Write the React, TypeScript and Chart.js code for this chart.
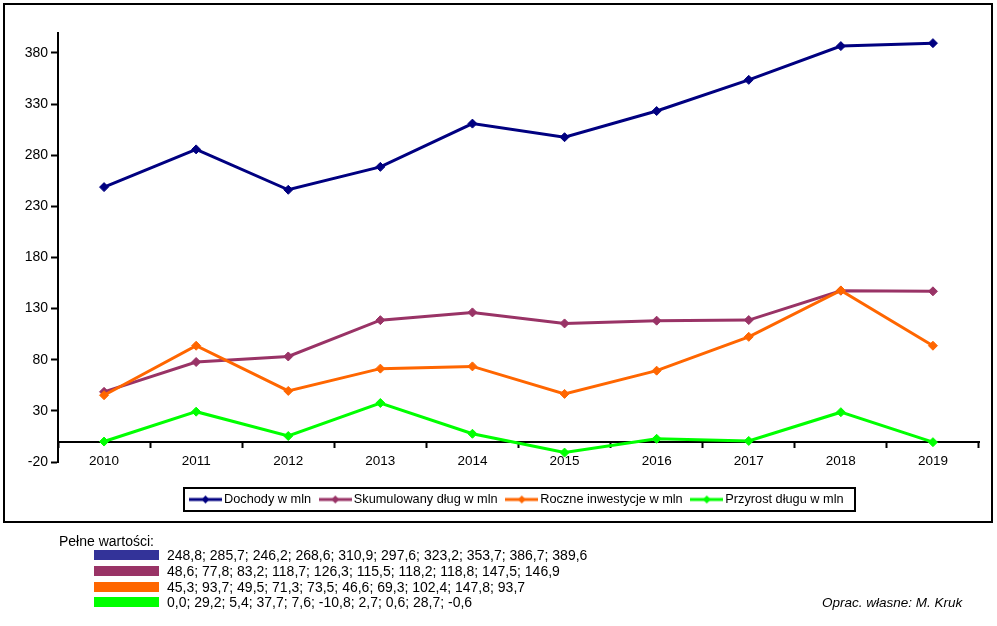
import React, { useEffect, useRef } from "react";
import { Chart, registerables } from "chart.js";

Chart.register(...registerables);

const YEARS = ["2010", "2011", "2012", "2013", "2014", "2015", "2016", "2017", "2018", "2019"];
const DOCHODY = [248.8, 285.7, 246.2, 268.6, 310.9, 297.6, 323.2, 353.7, 386.7, 389.6];
const DLUG = [48.6, 77.8, 83.2, 118.7, 126.3, 115.5, 118.2, 118.8, 147.5, 146.9];
const INWESTYCJE = [45.3, 93.7, 49.5, 71.3, 73.5, 46.6, 69.3, 102.4, 147.8, 93.7];
const PRZYROST = [0.0, 29.2, 5.4, 37.7, 7.6, -10.8, 2.7, 0.6, 28.7, -0.6];
const Y_TICKS = [-20, 30, 80, 130, 180, 230, 280, 330, 380];
const SERIES_LABELS = ["Dochody w mln", "Skumulowany dług w mln", "Roczne inwestycje w mln", "Przyrost długu w mln"];
const LINE_COLORS = ["#000080", "#993366", "#ff6600", "#00ff00"];
const SWATCH_COLORS = ["#333399", "#993366", "#ff6600", "#00ff00"];
const SERIES = [DOCHODY, DLUG, INWESTYCJE, PRZYROST];

const FONT = "'Liberation Sans', Arial, Helvetica, sans-serif";

function makeSample(color: string): HTMLCanvasElement {
  const c = document.createElement("canvas");
  c.width = 33;
  c.height = 12;
  const ctx = c.getContext("2d")!;
  ctx.strokeStyle = color;
  ctx.lineWidth = 3;
  ctx.beginPath();
  ctx.moveTo(0, 6);
  ctx.lineTo(33, 6);
  ctx.stroke();
  ctx.fillStyle = color;
  ctx.beginPath();
  ctx.moveTo(16.5, 2);
  ctx.lineTo(20.5, 6);
  ctx.lineTo(16.5, 10);
  ctx.lineTo(12.5, 6);
  ctx.closePath();
  ctx.fill();
  return c;
}

const fmt = (arr: number[]) => arr.map((v) => v.toFixed(1).replace(".", ",")).join("; ");

export default function App() {
  const ref = useRef<HTMLCanvasElement | null>(null);

  useEffect(() => {
    if (!ref.current) return;
    Chart.defaults.font.family = FONT;
    Chart.defaults.color = "#000";
    const samples = LINE_COLORS.map(makeSample);

    const framePlugin = {
      id: "framePlugin",
      afterDraw(chart: any) {
        const ctx = chart.ctx;
        ctx.save();
        ctx.strokeStyle = "#000";
        ctx.lineWidth = 2;
        ctx.strokeRect(4, 4, 988, 518);
        const hb = chart.legend && chart.legend.legendHitBoxes;
        if (hb && hb.length) {
          const first = hb[0];
          const last = hb[hb.length - 1];
          const cy = first.top + first.height / 2;
          const left = Math.round(first.left - 9.4);
          const right = Math.round(last.left + last.width + 11);
          ctx.strokeRect(left, Math.round(cy - 11.5), right - left, 23);
        }
        ctx.restore();
      },
    };

    const chart = new Chart(ref.current, {
      type: "line",
      data: {
        labels: YEARS,
        datasets: SERIES.map((data, i) => ({
          label: SERIES_LABELS[i],
          data,
          borderColor: LINE_COLORS[i],
          backgroundColor: LINE_COLORS[i],
          pointBackgroundColor: LINE_COLORS[i],
          pointBorderColor: LINE_COLORS[i],
          borderWidth: 3,
          pointStyle: "rectRot",
          pointRadius: 4.5,
          pointBorderWidth: 1,
          tension: 0,
          fill: false,
          order: 10 - i,
        })),
      },
      options: {
        responsive: false,
        animation: false,
        devicePixelRatio: 1,
        layout: { padding: { left: 0, right: 18, top: 32.5, bottom: 110.125 } },
        plugins: {
          tooltip: { enabled: false },
          legend: {
            display: true,
            position: "bottom",
            fullSize: false,
            align: "center",
            title: { display: true, text: "", padding: { top: 9.125, bottom: 0 }, font: { size: 10, lineHeight: 1 } },
            labels: {
              usePointStyle: true,
              pointStyleWidth: 24.25,
              padding: 12,
              color: "#000",
              font: { size: 12.75, family: FONT },
              generateLabels: (c: any) =>
                c.data.datasets.map((ds: any, i: number) => ({
                  text: ds.label,
                  pointStyle: samples[i],
                  datasetIndex: i,
                  hidden: false,
                  lineWidth: 0,
                  strokeStyle: ds.borderColor,
                  fillStyle: ds.borderColor,
                  fontColor: "#000",
                })),
            },
          },
        },
        scales: {
          x: {
            type: "category",
            offset: true,
            position: { y: 0 } as any,
            grid: { offset: true, drawOnChartArea: false, drawTicks: true, tickLength: 5, tickWidth: 2, tickColor: "#000" },
            border: { display: true, color: "#000", width: 2 },
            ticks: { color: "#000", font: { size: 13.5, family: FONT }, padding: 7, maxRotation: 0, autoSkip: false },
            afterFit: (s: any) => {
              s.height = 0;
            },
          },
          y: {
            type: "linear",
            position: "left",
            min: -20,
            max: 400,
            grid: { drawOnChartArea: false, drawTicks: true, tickLength: 7, tickWidth: 2, tickColor: "#000" },
            border: { display: true, color: "#000", width: 2 },
            ticks: { color: "#000", font: { size: 14, family: FONT }, padding: 3 },
            afterBuildTicks: (s: any) => {
              s.ticks = Y_TICKS.map((v) => ({ value: v }));
            },
            afterFit: (s: any) => {
              s.width = 58;
            },
          },
        },
      },
      plugins: [framePlugin],
    } as any);

    return () => chart.destroy();
  }, []);

  const rowCenters = [555, 571, 586.5, 602];

  return (
    <div style={{ position: "absolute", left: 0, top: 0, width: 997, height: 626, background: "#fff", fontFamily: FONT, color: "#000" }}>
      <canvas ref={ref} width={997} height={626} style={{ position: "absolute", left: 0, top: 0, width: 997, height: 626, display: "block" }} />
      <div style={{ position: "absolute", left: 59, top: 533, fontSize: 14, lineHeight: "16px", whiteSpace: "nowrap" }}>Pełne wartości:</div>
      {SERIES.map((arr, i) => (
        <React.Fragment key={i}>
          <div style={{ position: "absolute", left: 94, top: rowCenters[i] - 5, width: 65, height: 10, background: SWATCH_COLORS[i] }} />
          <div style={{ position: "absolute", left: 167, top: rowCenters[i] - 8, fontSize: 14, lineHeight: "16px", whiteSpace: "nowrap" }}>{fmt(arr)}</div>
        </React.Fragment>
      ))}
      <div style={{ position: "absolute", left: 822, top: 595, fontSize: 13.5, lineHeight: "16px", fontStyle: "italic", whiteSpace: "nowrap" }}>Oprac. własne: M. Kruk</div>
    </div>
  );
}
